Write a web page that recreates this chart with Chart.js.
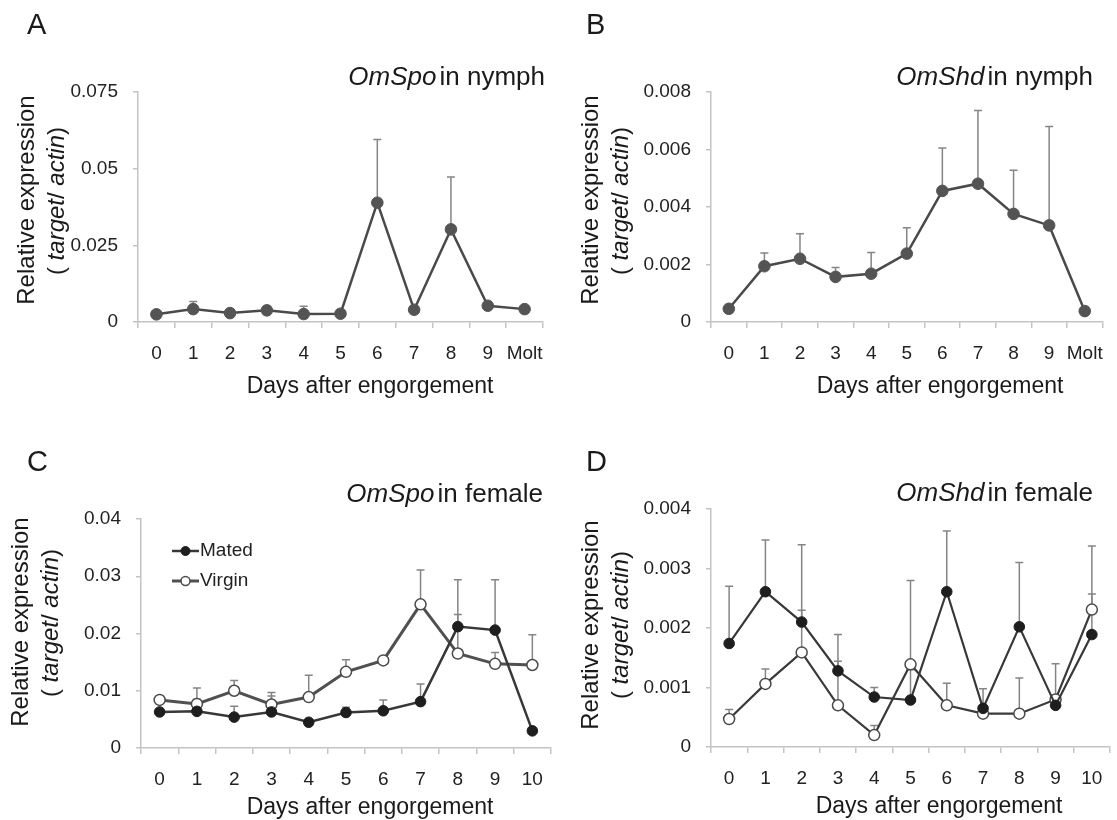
<!DOCTYPE html>
<html>
<head>
<meta charset="utf-8">
<script src="https://cdn.jsdelivr.net/npm/chart.js@4.4.1/dist/chart.umd.min.js"></script>
<style>
html,body{margin:0;padding:0;background:#fff;}
body{width:1117px;height:820px;position:relative;overflow:hidden;font-family:"Liberation Sans",Arial,sans-serif;color:#1a1a1a;}
canvas{position:absolute;}
.t{position:absolute;white-space:nowrap;line-height:1;}
.letter{font-size:29px;transform:translate(0,-50%);}
.title{font-size:26px;transform:translate(-100%,-50%);}
.title span{margin-left:3px;}
.xt{font-size:23px;transform:translate(-50%,-50%);}
.yt{font-size:24px;transform:translate(-50%,-50%) rotate(-90deg);}
</style>
</head>
<body>
<canvas id="cA" width="558" height="410" style="left:0;top:0"></canvas>
<canvas id="cB" width="559" height="410" style="left:558px;top:0"></canvas>
<canvas id="cC" width="558" height="410" style="left:0;top:410px"></canvas>
<canvas id="cD" width="559" height="410" style="left:558px;top:410px"></canvas>

<div class="t letter" style="left:27px;top:24px">A</div>
<div class="t letter" style="left:586px;top:24px">B</div>
<div class="t letter" style="left:27px;top:461px">C</div>
<div class="t letter" style="left:586px;top:461px">D</div>

<div class="t title" style="left:545px;top:76px"><i>OmSpo</i><span>in nymph</span></div>
<div class="t title" style="left:1093px;top:76px"><i>OmShd</i><span>in nymph</span></div>
<div class="t title" style="left:543px;top:493px"><i>OmSpo</i><span>in female</span></div>
<div class="t title" style="left:1093px;top:492px"><i>OmShd</i><span>in female</span></div>

<div class="t xt" style="left:370px;top:385px">Days after engorgement</div>
<div class="t xt" style="left:940px;top:385px">Days after engorgement</div>
<div class="t xt" style="left:370px;top:806px">Days after engorgement</div>
<div class="t xt" style="left:939px;top:805px">Days after engorgement</div>

<div class="t yt" style="left:26px;top:200px">Relative expression</div>
<div class="t yt" style="left:56px;top:201px">( <i>target</i>/ <i>actin</i>)</div>
<div class="t yt" style="left:590px;top:200px">Relative expression</div>
<div class="t yt" style="left:620px;top:201px">( <i>target</i>/ <i>actin</i>)</div>
<div class="t yt" style="left:20px;top:622px">Relative expression</div>
<div class="t yt" style="left:50px;top:623px">( <i>target</i>/ <i>actin</i>)</div>
<div class="t yt" style="left:590px;top:625px">Relative expression</div>
<div class="t yt" style="left:620px;top:625px">( <i>target</i>/ <i>actin</i>)</div>

<script>
// ---- categories ----
const daysNymph = ['0','1','2','3','4','5','6','7','8','9','Molt'];
const daysFemale = ['0','1','2','3','4','5','6','7','8','9','10'];

// ---- tick labels ----
const yTicksA = [0, 0.025, 0.05, 0.075];
const yTicksB = [0, 0.002, 0.004, 0.006, 0.008];
const yTicksC = [0, 0.01, 0.02, 0.03, 0.04];
const yTicksD = [0, 0.001, 0.002, 0.003, 0.004];

// ---- series (mean) and upper error bar ends ----
const spoNymph    = [0.0025, 0.0042, 0.0029, 0.0038, 0.0026, 0.0027, 0.0389, 0.0040, 0.0302, 0.0053, 0.0042];
const spoNymphErr = [null, 0.0067, null, null, 0.0051, null, 0.0595, null, 0.0473, null, null];

const shdNymph    = [0.00046, 0.00194, 0.0022, 0.00157, 0.00168, 0.00238, 0.00456, 0.00481, 0.00376, 0.00336, 0.00038];
const shdNymphErr = [null, 0.0024, 0.00307, 0.0019, 0.00242, 0.00328, 0.00605, 0.00736, 0.00528, 0.0068, null];

const spoMated     = [0.0063, 0.0064, 0.0054, 0.0063, 0.0045, 0.0062, 0.0065, 0.0081, 0.0212, 0.0206, 0.0030];
const spoMatedErr  = [null, 0.0085, 0.0073, 0.0091, null, 0.0071, 0.0084, 0.0112, 0.0294, 0.0294, null];
const spoVirgin    = [0.0084, 0.0077, 0.0100, 0.0076, 0.0089, 0.0133, 0.0153, 0.0251, 0.0165, 0.0147, 0.0145];
const spoVirginErr = [null, 0.0105, 0.0118, 0.0097, 0.0127, 0.0154, null, 0.0311, 0.0233, 0.0167, 0.0198];

const shdMated     = [0.00174, 0.00261, 0.0021, 0.00128, 0.00084, 0.00079, 0.00261, 0.00065, 0.00202, 0.0007, 0.00189];
const shdMatedErr  = [0.0027, 0.00348, 0.0034, 0.00189, 0.0010, 0.0013, 0.00363, 0.00098, 0.0031, 0.0014, 0.00257];
const shdVirgin    = [0.00047, 0.00106, 0.00159, 0.0007, 0.0002, 0.00139, 0.0007, 0.00056, 0.00056, 0.0008, 0.00231];
const shdVirginErr = [0.00063, 0.00131, 0.0023, 0.00144, 0.00036, 0.0028, 0.00107, null, 0.00116, null, 0.00338];

const FONT = '"Liberation Sans", Arial, sans-serif';
const AX = '#c4c4c4';
const TXT = '#222';

const errorBarPlugin = {
  id: 'errorBars',
  beforeDatasetsDraw(chart) {
    const ctx = chart.ctx, ys = chart.scales.y;
    chart.data.datasets.forEach((ds, i) => {
      if (!ds.errTop) return;
      const meta = chart.getDatasetMeta(i);
      ctx.save();
      ctx.strokeStyle = '#858585';
      ctx.lineWidth = 1.5;
      meta.data.forEach((pt, j) => {
        const e = ds.errTop[j];
        if (e == null) return;
        const y1 = ys.getPixelForValue(e);
        ctx.beginPath();
        ctx.moveTo(pt.x, pt.y); ctx.lineTo(pt.x, y1);
        ctx.moveTo(pt.x - 4, y1); ctx.lineTo(pt.x + 4, y1);
        ctx.stroke();
      });
      ctx.restore();
    });
  }
};

const lineLegendPlugin = {
  id: 'lineLegend',
  afterDraw(chart, args, opts) {
    if (!opts || opts.x == null) return;
    const ctx = chart.ctx;
    chart.data.datasets.forEach((ds, k) => {
      const y = opts.y + k * opts.gap;
      ctx.save();
      ctx.strokeStyle = ds.borderColor; ctx.lineWidth = ds.borderWidth;
      ctx.beginPath(); ctx.moveTo(opts.x, y); ctx.lineTo(opts.x + opts.len, y); ctx.stroke();
      ctx.beginPath(); ctx.arc(opts.x + opts.len / 2, y, opts.r, 0, Math.PI * 2);
      ctx.fillStyle = ds.pointBackgroundColor; ctx.fill();
      ctx.lineWidth = ds.pointBorderWidth; ctx.strokeStyle = ds.pointBorderColor; ctx.stroke();
      ctx.fillStyle = TXT; ctx.font = '19px ' + FONT; ctx.textBaseline = 'middle'; ctx.textAlign = 'left';
      ctx.fillText(ds.label, opts.x + opts.len + 1, y);
      ctx.restore();
    });
  }
};

function build(id, labels, datasets, yTicks, box) {
  const yMax = yTicks[yTicks.length - 1];
  return new Chart(document.getElementById(id), {
    type: 'line',
    data: { labels: labels, datasets: datasets },
    plugins: [errorBarPlugin, lineLegendPlugin],
    options: {
      responsive: false,
      animation: false,
      layout: { padding: { left: 0, top: box.top, right: box.right, bottom: 0 } },
      plugins: { legend: { display: false }, tooltip: { enabled: false }, lineLegend: box.legend || {} },
      scales: {
        x: {
          type: 'category', offset: true,
          grid: { offset: true, drawOnChartArea: false, color: AX, lineWidth: 1.5, tickLength: 6 },
          border: { color: AX, width: 1.5 },
          ticks: { color: TXT, font: { family: FONT, size: 19 }, padding: 14, autoSkip: false, maxRotation: 0 },
          afterFit(s) { s.height = box.xh; }
        },
        y: {
          min: 0, max: yMax,
          afterBuildTicks(s) { s.ticks = yTicks.map(v => ({ value: v })); },
          grid: { drawOnChartArea: false, color: AX, lineWidth: 1.5, tickLength: 5 },
          border: { color: AX, width: 1.5 },
          ticks: { color: TXT, font: { family: FONT, size: 19 }, padding: 15, callback: v => String(v) },
          afterFit(s) { s.width = box.yw; }
        }
      }
    }
  });
}

function nymphDs(label, data, err) {
  return { label, data, errTop: err, borderColor: '#4a4a4a', borderWidth: 2.5, tension: 0,
    pointRadius: 5.8, pointBackgroundColor: '#545454', pointBorderColor: '#545454', pointBorderWidth: 1 };
}
function matedDs(data, err, w) {
  return { label: 'Mated', data, errTop: err, borderColor: '#383838', borderWidth: w, tension: 0,
    pointRadius: 5.3, pointBackgroundColor: '#1e1e1e', pointBorderColor: '#1e1e1e', pointBorderWidth: 1 };
}
function virginDs(data, err, w, c) {
  return { label: 'Virgin', data, errTop: err, borderColor: c, borderWidth: w, tension: 0,
    pointRadius: 5.5, pointBackgroundColor: '#ffffff', pointBorderColor: '#4a4a4a', pointBorderWidth: 1.5 };
}

build('cA', daysNymph, [nymphDs('OmSpo', spoNymph, spoNymphErr)], yTicksA,
  { top: 92, right: 15, yw: 138, xh: 88 });
build('cB', daysNymph, [nymphDs('OmShd', shdNymph, shdNymphErr)], yTicksB,
  { top: 92, right: 1, yw: 153, xh: 88 });
build('cC', daysFemale, [matedDs(spoMated, spoMatedErr, 2.5), virginDs(spoVirgin, spoVirginErr, 3, '#505050')], yTicksC,
  { top: 109, right: 3, yw: 141, xh: 72, legend: { x: 172, y: 141, gap: 30, len: 27, r: 4.5 } });
build('cD', daysFemale, [matedDs(shdMated, shdMatedErr, 2.2), virginDs(shdVirgin, shdVirginErr, 2.2, '#3a3a3a')], yTicksD,
  { top: 99, right: 3, yw: 153, xh: 73 });
</script>
</body>
</html>
